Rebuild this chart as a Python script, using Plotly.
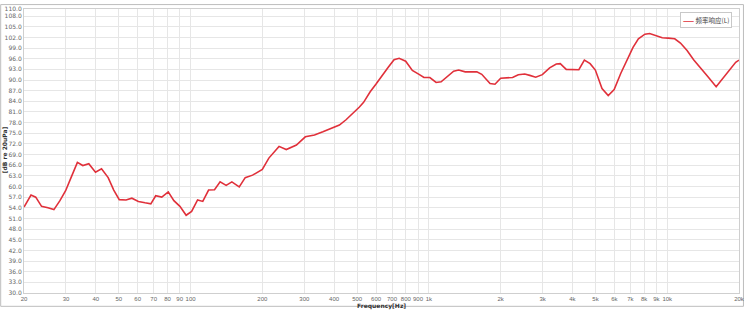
import numpy as np
import plotly.graph_objects as go

freq_hz = [20, 21.4, 22.4, 23.7, 25.2, 26.7, 28.3, 29.9, 31.6, 33.5, 35.3, 37.4, 39.9, 42.3, 45.1, 47.6,
           50.2, 53.6, 56.7, 60.4, 64.4, 68.1, 71.4, 75.7, 80.6, 85.1, 90.2, 95.8, 101, 107, 112.5, 119,
           126, 133, 141, 149, 160, 169.5, 182, 200, 213, 235, 252, 278, 303, 331, 359, 389, 421, 449,
           479, 511, 532, 567, 599, 639, 675, 714, 750, 799, 852, 909, 953, 1009, 1072, 1125, 1191, 1270,
           1333, 1420, 1589, 1666, 1805, 1893, 2000, 2117, 2244, 2371, 2524, 2650, 2806, 2992, 3210, 3423,
           3557, 3768, 4018, 4256, 4490, 4747, 4993, 5324, 5654, 5988, 6385, 6813, 7184, 7566, 8058, 8436,
           8994, 9527, 10090, 10750, 11360, 12110, 12900, 13760, 14820, 16040, 17040, 18340, 19370, 20000]
spl_db = [54.2, 57.6, 57.0, 54.4, 54.0, 53.5, 56.0, 58.8, 62.7, 66.8, 65.9, 66.4, 64.0, 65.0, 62.5, 59.0,
          56.3, 56.2, 56.7, 55.8, 55.4, 55.1, 57.4, 57.0, 58.5, 56.0, 54.4, 51.9, 53.0, 56.2, 55.8, 59.0,
          59.1, 61.3, 60.3, 61.3, 59.9, 62.5, 63.2, 64.8, 68.0, 71.3, 70.4, 71.7, 74.0, 74.5, 75.4, 76.3, 77.3, 78.8,
          80.5, 82.4, 83.7, 86.7, 88.8, 91.6, 93.6, 95.7, 96.1, 95.3, 92.7, 91.6, 90.7, 90.7, 89.3, 89.5, 90.9, 92.5,
          92.8, 92.3, 92.3, 91.6, 89.0, 88.8, 90.5, 90.5, 90.7, 91.5, 91.7, 91.3, 90.8, 91.5, 93.4, 94.5,
          94.6, 93.0, 92.9, 92.9, 95.6, 94.6, 92.8, 87.6, 85.6, 87.3, 91.9, 95.7, 99.2, 101.6, 102.9, 103.1,
          102.5, 101.9, 101.8, 101.6, 100.4, 98.3, 95.7, 93.6, 90.9, 88.1, 90.4, 93.2, 95.0, 95.6]

series_name = "频率响应(L)"
x_tick_vals = [20, 30, 40, 50, 60, 70, 80, 90, 100, 200, 300, 400, 500, 600, 700, 800, 900, 1000,
               2000, 3000, 4000, 5000, 6000, 7000, 8000, 9000, 10000, 20000]
x_tick_text = ["20", "30", "40", "50", "60", "70", "80", "90", "100", "200", "300", "400", "500", "600",
               "700", "800", "900", "1k", "2k", "3k", "4k", "5k", "6k", "7k", "8k", "9k", "10k", "20k"]
y_tick_vals = list(range(30, 109, 3)) + [110]
y_tick_text = ["%.1f" % v for v in y_tick_vals]

W, H = 750, 310
ml, mr, mt, mb = 24, 5, 5, 17
line_color = "#e0303a"

fig = go.Figure()
fig.add_trace(go.Scatter(x=freq_hz, y=spl_db, mode="lines", name=series_name,
                         line=dict(color=line_color, width=1.6), showlegend=False))

grid = "#e6e6e6"
fig.update_layout(
    width=W, height=H,
    margin=dict(l=ml, r=mr, t=mt, b=mb),
    paper_bgcolor="white", plot_bgcolor="white",
    font=dict(family="Liberation Sans", size=6, color="#555555"),
    xaxis=dict(type="log", range=[np.log10(20), np.log10(20000)], tickvals=x_tick_vals,
               ticktext=x_tick_text, tickangle=0, showgrid=True, gridcolor=grid, gridwidth=1,
               showline=True, linecolor="#cfcfcf", mirror=True, ticks="", zeroline=False,
               tickfont=dict(family="Liberation Sans", size=6, color="#666666")),
    yaxis=dict(range=[30, 110], tickvals=y_tick_vals, ticktext=y_tick_text, showgrid=True,
               gridcolor=grid, gridwidth=1, showline=True, linecolor="#cfcfcf", mirror=True,
               ticks="", zeroline=False,
               tickfont=dict(family="DejaVu Sans", size=6, color="#666666")),
    showlegend=False,
)

pw = W - ml - mr
ph = H - mt - mb
fig.add_annotation(text="<b>Frequency[Hz]</b>", xref="paper", yref="paper",
                   x=(385 - ml) / pw, y=-(306 - (H - mb)) / ph, showarrow=False,
                   font=dict(family="DejaVu Sans", size=6, color="#333333"),
                   xanchor="center", yanchor="middle")
fig.add_annotation(text="<b>[dB re 20uPa]</b>", xref="paper", yref="paper",
                   x=-(ml - 4) / pw, y=(H - mb - 148) / ph, showarrow=False, textangle=-90,
                   font=dict(family="DejaVu Sans", size=6, color="#333333"),
                   xanchor="center", yanchor="middle")
# legend box (drawn as a bordered annotation)
fig.add_annotation(text="<span style='color:%s'><b>——</b></span> %s" % (line_color, series_name),
                   xref="paper", yref="paper", x=(738 - ml) / pw, y=1 - (8 - mt) / ph,
                   xanchor="right", yanchor="top", showarrow=False, align="left",
                   font=dict(family="Noto Sans CJK SC", size=6.5, color="#444444"),
                   bgcolor="white", bordercolor="#c8c8c8", borderwidth=1, borderpad=2)
# outer frame of the chart window
fig.add_shape(type="rect", xref="paper", yref="paper",
              x0=-(ml - 0.5) / pw, x1=1 + (mr - 0.5) / pw,
              y0=-(mb - 3.5) / ph, y1=1 + (mt - 0.5) / ph,
              line=dict(color="#bdbdbd", width=1), layer="below")

fig.write_html("out.html")
